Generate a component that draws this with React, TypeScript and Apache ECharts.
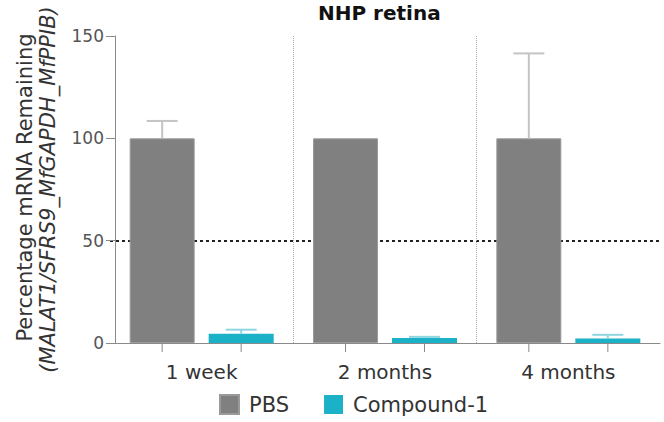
import React, { useEffect, useRef } from "react";
import * as echarts from "echarts";

const categories = ["1 week", "2 months", "4 months"];
const pbsValues = [100, 100, 100];
const pbsUpper = [108.5, 100, 141.5];
const compoundValues = [4.5, 2.5, 2.2];
const compoundUpper = [6.5, 3, 4];
const seriesNames = ["PBS", "Compound-1"];
const yMin = 0;
const yMax = 150;
const yInterval = 50;

const FONT = "DejaVu Sans";
const BAR_W = 65;
const GAP_PX = 14;
const HALF = (BAR_W + GAP_PX) / 2;

function makeRender(offset: number, color: string) {
  return (params: any, api: any) => {
    const idx = api.value(0);
    const v = api.value(1);
    const up = api.value(2);
    const base = api.coord([idx, 0]);
    const valPt = api.coord([idx, v]);
    const topPt = api.coord([idx, up]);
    const x = base[0] + offset;
    const children: any[] = [
      {
        type: "line",
        shape: { x1: x, y1: base[1], x2: x, y2: base[1] + 9 },
        style: { stroke: "#8a8a8a", lineWidth: 1 },
      },
    ];
    if (up > v) {
      children.push({
        type: "line",
        shape: { x1: x, y1: valPt[1], x2: x, y2: topPt[1] },
        style: { stroke: color, lineWidth: 2 },
      });
      children.push({
        type: "line",
        shape: { x1: x - 15.5, y1: topPt[1], x2: x + 15.5, y2: topPt[1] },
        style: { stroke: color, lineWidth: 2 },
      });
    }
    return { type: "group", children };
  };
}

export default function App() {
  const ref = useRef<HTMLDivElement>(null);
  useEffect(() => {
    if (!ref.current) return;
    const chart = echarts.init(ref.current, null, { renderer: "svg" });
    chart.setOption({
      animation: false,
      backgroundColor: "#ffffff",
      title: {
        text: "NHP retina",
        left: 318,
        top: 2,
        padding: 0,
        textStyle: { fontFamily: FONT, fontSize: 20, fontWeight: "bold", color: "#111", lineHeight: 22 },
      },
      legend: {
        data: seriesNames,
        left: 219,
        top: 394,
        padding: 0,
        icon: "rect",
        itemWidth: 19,
        itemHeight: 19,
        itemGap: 35,
        textStyle: { fontFamily: FONT, fontSize: 21, color: "#333", padding: [0, 0, 0, 5] },
      },
      grid: { left: 110, right: 4, top: 36, bottom: 79, containLabel: false },
      xAxis: {
        type: "category",
        data: categories,
        axisLine: { show: true, lineStyle: { color: "#8a8a8a", width: 1 } },
        axisTick: { show: false },
        axisLabel: { fontFamily: FONT, fontSize: 20, color: "#333", margin: 19 },
        splitLine: {
          show: true,
          showMinLine: false,
          showMaxLine: false,
          lineStyle: { color: "#aaaaaa", type: "dotted", width: 1 },
        },
      },
      yAxis: {
        type: "value",
        min: yMin,
        max: yMax,
        interval: yInterval,
        offset: -5,
        name: "{a|Percentage mRNA Remaining}\n{b|(MALAT1/SFRS9_MfGAPDH_MfPPIB)}",
        nameLocation: "middle",
        nameRotate: 90,
        nameGap: 56,
        nameTextStyle: {
          rich: {
            a: { fontFamily: FONT, fontSize: 21, color: "#333", lineHeight: 23, padding: [0, 0, 0, 4] },
            b: { fontFamily: FONT, fontSize: 21, color: "#333", fontStyle: "italic", lineHeight: 23 },
          },
        },
        axisLine: { show: true, lineStyle: { color: "#8a8a8a", width: 1 } },
        axisTick: { show: true, length: 9, lineStyle: { color: "#8a8a8a" } },
        axisLabel: { fontFamily: FONT, fontSize: 17, color: "#555", margin: 11 },
        splitLine: {
          show: true,
          lineStyle: {
            color: ["rgba(0,0,0,0)", "#222222", "rgba(0,0,0,0)", "rgba(0,0,0,0)"],
            type: [3, 3],
            width: 2,
          },
        },
      },
      series: [
        {
          name: seriesNames[0],
          type: "bar",
          data: pbsValues,
          barWidth: BAR_W,
          barGap: (GAP_PX / BAR_W) * 100 + "%",
          itemStyle: { color: "#808080", borderColor: "#9a9a9a", borderWidth: 1 },
        },
        {
          name: seriesNames[1],
          type: "bar",
          data: compoundValues,
          barWidth: BAR_W,
          itemStyle: { color: "#1bb2c8" },
        },
        {
          name: "PBS error",
          type: "custom",
          clip: false,
          z: 3,
          data: categories.map((_, i) => [i, pbsValues[i], pbsUpper[i]]),
          encode: { x: 0, y: 1 },
          renderItem: makeRender(-HALF, "#c4c4c4"),
        },
        {
          name: "Compound-1 error",
          type: "custom",
          clip: false,
          z: 3,
          data: categories.map((_, i) => [i, compoundValues[i], compoundUpper[i]]),
          encode: { x: 0, y: 1 },
          renderItem: makeRender(HALF, "#8fd6e2"),
        },
      ],
    });
    return () => chart.dispose();
  }, []);
  return <div ref={ref} style={{ width: 664, height: 422, position: "fixed", left: 0, top: 0 }} />;
}
